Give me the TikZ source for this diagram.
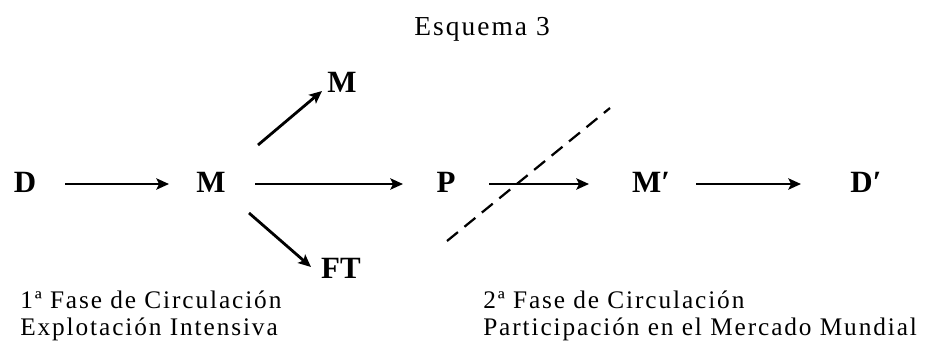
\documentclass[tikz,border=0pt]{standalone}
\usepackage{fontspec}
\setmainfont{Liberation Serif}
\newfontfamily\widefont[LetterSpace=7.5]{Liberation Serif}
\usetikzlibrary{arrows.meta, calc}

\begin{document}
\begin{tikzpicture}[
    x=0.025cm, y=-0.025cm,
    lbl/.style={font=\fontsize{22}{24}\selectfont\bfseries, inner sep=0pt, text height=15pt, text depth=0pt},
    txt/.style={font=\widefont\fontsize{18}{20}\selectfont, inner sep=0pt, anchor=base west},
    arr/.style={-{Stealth[length=9pt, width=8pt, inset=2pt]}, line width=2pt},
    cut/.style={dash pattern=on 10pt off 6pt, line width=1.6pt}
  ]
  \useasboundingbox (0,0) rectangle (926,342);

  \node[font=\widefont\fontsize{19.5}{22}\selectfont, anchor=base] (title) at (482,35) {Esquema 3};

  % main row
  \node[lbl] (D) at (25,182) {D};
  \node[lbl] (M) at (211,182) {M};
  \node[lbl] (P) at (446,182) {P};
  \node[lbl] (Mp) at (651,182) {M′};
  \node[lbl] (Dp) at (866,182) {D′};
  \node[lbl] (Mtop) at (342,82) {M};
  \node[lbl] (FT) at (341,268) {FT};

  \draw[arr] ($(D)+(40,2)$) -- ($(M)+(-42,2)$);
  \draw[arr] ($(M)+(44,2)$) -- ($(P)+(-43,2)$);
  \draw[arr] ($(P)+(43,2)$) -- ($(Mp)+(-62,2)$);
  \draw[arr] ($(Mp)+(45,2)$) -- ($(Dp)+(-65,2)$);
  \draw[arr] ($(M)+(47,-37)$) -- ($(Mtop)+(-20,9)$);
  \draw[arr] ($(M)+(38,31)$) -- ($(FT)+(-30,-1)$);

  % dividing line
  \coordinate (cutA) at (447,241);
  \coordinate (cutB) at (610,108);
  \draw[cut] (cutA) -- (cutB);

  \node[txt] (fase1) at (20,308) {1ª Fase de Circulación};
  \node[txt] (fase1b) at (20,335) {Explotación Intensiva};
  \node[txt] (fase2) at (483,308) {2ª Fase de Circulación};
  \node[txt] (fase2b) at (483,335) {Participación en el Mercado Mundial};
\end{tikzpicture}
\end{document}
